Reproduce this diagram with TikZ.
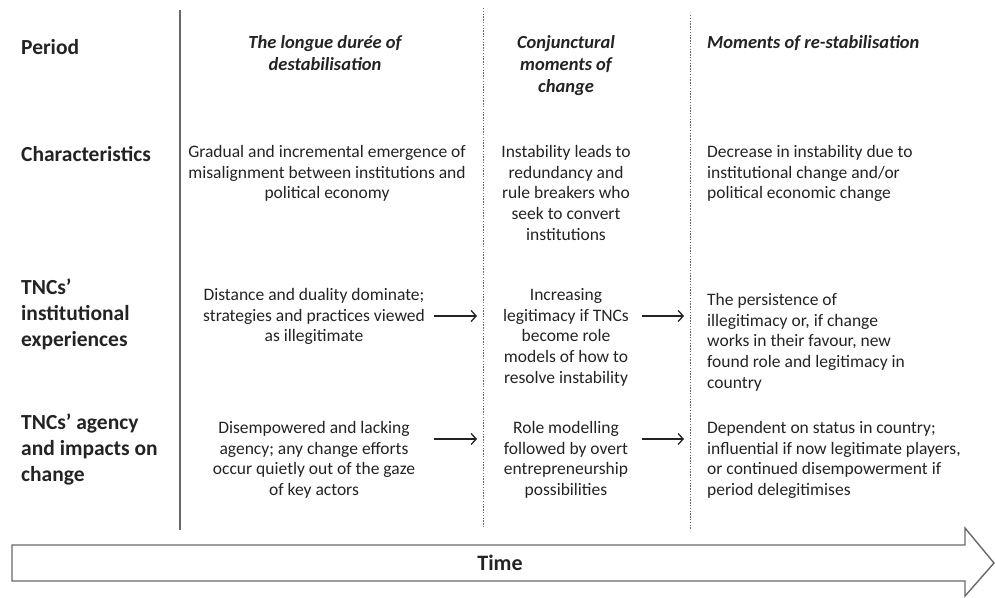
\documentclass[tikz,border=0pt]{standalone}
\usepackage{fontspec}
\setmainfont{Carlito}
\usepackage{xcolor}
\definecolor{inkgray}{RGB}{35,35,35}
\definecolor{rulegray}{RGB}{105,105,105}
\usepackage{tikz}
\usetikzlibrary{arrows.meta}

\begin{document}
\begin{tikzpicture}[x=1pt, y=-1pt,
    rowlabel/.style={anchor=north west, inner sep=0pt, align=left, text=inkgray,
        font=\fontsize{21.5}{26}\selectfont\bfseries},
    heading/.style={anchor=north, inner sep=0pt, align=center, text=inkgray,
        font=\fontsize{18.5}{22}\selectfont\bfseries\itshape},
    cell/.style={anchor=north, inner sep=0pt, align=center, text=inkgray,
        font=\fontsize{17.5}{20.8}\selectfont},
    leftcell/.style={cell, anchor=north west, align=left},
    flow/.style={-{Straight Barb[length=5pt,width=11pt]}, line width=1.3pt, inkgray},
    divider/.style={rulegray, line width=0.8pt, dash pattern=on 1.4pt off 1.4pt}]
    \useasboundingbox (0,0) rectangle (995,597);

    % column rules
    \draw[rulegray, line width=1.5pt] (180,10) -- (180,530);
    \draw[divider] (483,8) -- (483,527);
    \draw[divider] (690,15) -- (690,530);

    % row labels
    \node[rowlabel] (period) at (21,39) {Period};
    \node[rowlabel] (charac) at (21,146) {Characteristics};
    \node[rowlabel] (experience) at (21,279) {TNCs’\\institutional\\experiences};
    \node[rowlabel] (agency) at (21,414) {TNCs’ agency\\and impacts on\\change};

    % period headings
    \node[heading] (longue) at (325,35) {The longue durée of\\destabilisation};
    \node[heading] (conjunct) at (566,35) {Conjunctural\\moments of\\change};
    \node[heading, anchor=north west] (restab) at (707,35) {Moments of re-stabilisation};

    % characteristics
    \node[cell] (charleft) at (327,145) {Gradual and incremental emergence of\\misalignment between institutions and\\political economy};
    \node[cell] (charmid) at (566,145) {Instability leads to\\redundancy and\\rule breakers who\\seek to convert\\institutions};
    \node[leftcell] (charright) at (707,145) {Decrease in instability due to\\institutional change and/or\\political economic change};

    % institutional experiences
    \node[cell] (expleft) at (314,288) {Distance and duality dominate;\\strategies and practices viewed\\as illegitimate};
    \node[cell] (expmid) at (566,288) {Increasing\\legitimacy if TNCs\\become role\\models of how to\\resolve instability};
    \node[leftcell] (expright) at (707,293) {The persistence of\\illegitimacy or, if change\\works in their favour, new\\found role and legitimacy in\\country};

    % agency and impacts
    \node[cell] (agleft) at (314,421) {Disempowered and lacking\\agency; any change efforts\\occur quietly out of the gaze\\of key actors};
    \node[cell] (agmid) at (566,421) {Role modelling\\followed by overt\\entrepreneurship\\possibilities};
    \node[leftcell] (agright) at (707,421) {Dependent on status in country;\\influential if now legitimate players,\\or continued disempowerment if\\period delegitimises};

    % arrows between periods
    \coordinate (e1) at (434,316); \coordinate (e2) at (477,316);
    \coordinate (e3) at (642,316); \coordinate (e4) at (684,316);
    \coordinate (a1) at (434,439); \coordinate (a2) at (477,439);
    \coordinate (a3) at (642,439); \coordinate (a4) at (684,439);
    \draw[flow] (e1) -- (e2);
    \draw[flow] (e3) -- (e4);
    \draw[flow] (a1) -- (a2);
    \draw[flow] (a3) -- (a4);

    % time arrow
    \draw[rulegray, line width=1.4pt, line join=miter]
        (12,545) -- (965,545) -- (965,528) -- (994,563) -- (965,596) -- (965,581) -- (12,581) -- cycle;
    \node[text=inkgray, font=\fontsize{22}{26}\selectfont\bfseries] (time) at (500,563) {Time};
\end{tikzpicture}
\end{document}
